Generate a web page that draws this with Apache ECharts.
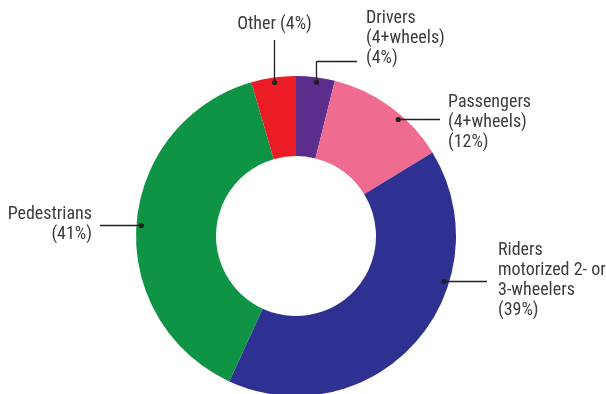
<!DOCTYPE html>
<html><head><meta charset="utf-8">
<script src="https://cdn.jsdelivr.net/npm/echarts@6/dist/echarts.min.js"></script>
<style>html,body{margin:0;padding:0;background:#fff}#c{width:606px;height:394px}</style>
</head><body><div id="c"></div>
<script>
// ---- data ----
const categories = ['Drivers\n(4+wheels)', 'Passengers\n(4+wheels)', 'Riders\nmotorized 2- or\n3-wheelers', 'Pedestrians', 'Other'];
const shareLabels = ['(4%)', '(12%)', '(39%)', '(41%)', '(4%)'];
const shares = [3.9, 12.35, 40.6, 38.65, 4.5];
const colors = ['#5b2e8e', '#ef6b90', '#2e3192', '#0f9446', '#ec1c24'];

// ---- layout ----
const CX = 296, CY = 236, R0 = 80, R1 = 160, RDOT = 155;
const place = [
  {tx: 366, ty: 38, align: 'left', lineX: 316.5, elbowY: 61.5, endX: 357},
  {tx: 448, ty: 122, align: 'left', lineY: 119.5, endX: 440, side: 1},
  {tx: 498, ty: 280, align: 'left', lineY: 281.5, endX: 487, side: 1},
  {tx: 92, ty: 224, align: 'right', lineY: 225.5, endX: 100, side: -1},
  {tx: 274.5, ty: 24, align: 'center', lineX: 274.5, endY: 40}
];
function dotPoint(p) {
  if (p.lineX !== undefined) {
    const dx = p.lineX - CX;
    return [p.lineX, CY - Math.sqrt(RDOT * RDOT - dx * dx)];
  }
  const dy = p.lineY - CY;
  return [CX + p.side * Math.sqrt(RDOT * RDOT - dy * dy), p.lineY];
}
function linePoints(p) {
  const d = dotPoint(p);
  if (p.elbowY !== undefined) return [d, [d[0], p.elbowY], [p.endX, p.elbowY]];
  if (p.endY !== undefined) return [d, [d[0], p.endY]];
  return [d, [p.endX, d[1]]];
}

const chart = echarts.init(document.getElementById('c'), null, {renderer: 'canvas'});
const FONT = "'Liberation Sans Narrow', 'Arial Narrow', 'Roboto Condensed', 'DejaVu Sans Condensed', sans-serif";
const guides = [];
place.forEach(p => {
  const d = dotPoint(p);
  const pts = linePoints(p);
  for (let k = 0; k < pts.length - 1; k++) {
    guides.push({type: 'line', z: 100, silent: true,
      shape: {x1: pts[k][0], y1: pts[k][1], x2: pts[k + 1][0], y2: pts[k + 1][1]},
      style: {stroke: '#231f20', lineWidth: 1.3}});
  }
  guides.push({type: 'circle', z: 101, silent: true, shape: {cx: d[0], cy: d[1], r: 2.6},
    style: {fill: '#231f20'}});
});
chart.setOption({
  animation: false,
  backgroundColor: '#ffffff',
  series: [{
    type: 'pie',
    center: [CX, CY],
    radius: [R0, R1],
    startAngle: 90,
    clockwise: true,
    avoidLabelOverlap: false,
    silent: true,
    data: categories.map((c, i) => ({
      name: c, value: shares[i], itemStyle: {color: colors[i]}
    })),
    itemStyle: {borderWidth: 0},
    label: {
      show: true,
      fontFamily: FONT,
      fontSize: 18,
      lineHeight: 20,
      color: '#3c3c3c',
      formatter: p => p.dataIndex === 4 ? p.name + ' ' + shareLabels[p.dataIndex] : p.name + '\n' + shareLabels[p.dataIndex]
    },
    labelLine: {show: false},
    labelLayout: params => {
      const p = place[params.dataIndex];
      return {x: p.tx, y: p.ty, align: p.align, verticalAlign: 'middle'};
    }
  }],
  graphic: guides
});
</script></body></html>
